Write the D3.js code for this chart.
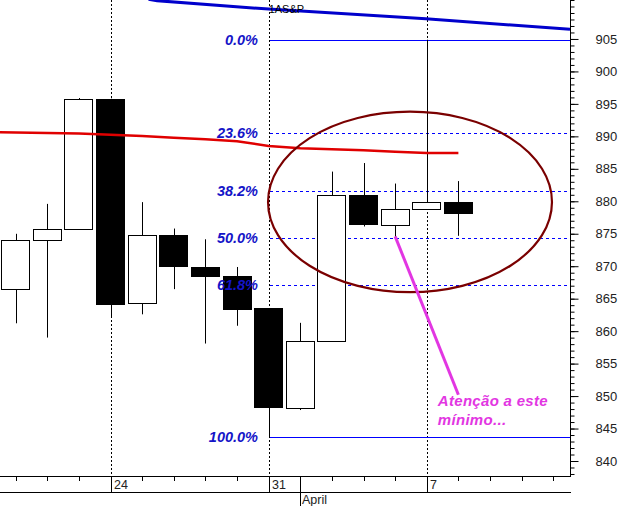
<!DOCTYPE html>
<html><head><meta charset="utf-8">
<script src="https://cdn.jsdelivr.net/npm/d3@7/dist/d3.min.js"></script>
<style>body{margin:0;background:#fff}svg{display:block}</style>
</head><body>
<svg id="c" width="618" height="506"></svg>
<script>
// ---- data ----
const dates = ["Mar 19","Mar 20","Mar 21","Mar 24","Mar 25","Mar 26","Mar 27","Mar 28","Mar 31",
               "Apr 1","Apr 2","Apr 3","Apr 4","Apr 7","Apr 8","Apr 9","Apr 10","Apr 11"];
const dayLabels = ["","","","24","","","","","31","","","","","7","","","",""];
const monthLabels = [{idx: 9, text: "April"}];
const openV  = [866.45,874.02,875.84,895.79,864.23,874.74,869.95,868.52,863.50,848.18,858.48,880.90,876.45,878.85,879.93];
const highV  = [874.99,879.60,895.90,895.79,879.87,875.80,874.15,869.88,863.50,861.28,884.57,885.89,882.73,904.89,883.11];
const lowV   = [861.21,859.01,875.84,862.02,862.59,866.47,858.09,860.83,843.68,847.85,858.48,876.12,874.23,878.85,874.68];
const closeV = [874.02,875.67,895.79,864.23,874.74,869.95,868.52,863.50,848.18,858.48,880.90,876.45,878.85,879.93,878.29];
// red moving average, index -1 .. 14
const maIdx = [-1,0,1,2,3,4,5,6,7,8,9,10,11,12,13,14];
const maVal = [890.68,890.60,890.52,890.44,890.24,890.06,889.78,889.55,889.26,888.52,888.17,888.01,887.86,887.64,887.44,887.44];
// blue trend line
const trendIdx = [4.2, 4.47, 8.0, 12.97, 17.53];
const trendVal = [911.1, 910.9, 909.6, 908.1, 906.5];
// fibonacci retracement
const fibLevels = [0, 23.6, 38.2, 50, 61.8, 100];
const fibHigh = 904.89, fibLow = 843.68, fibStartIdx = 8;
// y ticks
const yMajor = d3.range(840, 910, 5);
const yMinor = d3.range(838, 912, 1);
// annotations
const ellipseC = [12.47, 879.9], ellipseR = [4.49, 13.9];
const arrowFrom = [12.0, 874.6], arrowTo = [14.0, 850.2];
const noteLines = ["Atenção a este", "mínimo..."];
const notePos = [13.35, 848.4];
const titleText = "1AS&P";

// ---- layout ----
const W = 618, H = 506, plotR = 570, plotB = 476, axis2 = 492;
const svg = d3.select("#c");
const x = d3.scaleLinear().domain([-0.497, 17.53]).range([0, plotR]);
const y = d3.scaleLinear().domain([837.69, 911.0]).range([plotB, 0]);
const step = x(1) - x(0);
const bw = step * 0.92;

svg.append("defs").append("clipPath").attr("id","clip")
  .append("rect").attr("x",0).attr("y",0).attr("width",plotR).attr("height",plotB);

const plot = svg.append("g").attr("clip-path","url(#clip)");

// vertical dotted grid at Mondays
const gridIdx = dayLabels.map((d,i)=>d?i:null).filter(d=>d!==null);
plot.append("g").attr("class","grid").selectAll("line").data(gridIdx).join("line")
  .attr("x1",d=>Math.round(x(d))+0.5).attr("x2",d=>Math.round(x(d))+0.5)
  .attr("y1",0).attr("y2",plotB)
  .attr("stroke","#000").attr("stroke-width",1).attr("stroke-dasharray","2,2");

// fib lines
const fibPrice = p => fibHigh - (fibHigh - fibLow) * p / 100;
plot.append("g").attr("class","fib").selectAll("line").data(fibLevels).join("line")
  .attr("x1", Math.round(x(fibStartIdx))+1).attr("x2", plotR)
  .attr("y1", d=>Math.round(y(fibPrice(d)))+0.5).attr("y2", d=>Math.round(y(fibPrice(d)))+0.5)
  .style("stroke", "#0000ff").style("stroke-width","1px")
  .style("stroke-dasharray", d=> (d===0||d===100) ? "none" : "3,3");

// title text
svg.append("text").attr("x", x(fibStartIdx)).attr("y", 13)
  .attr("font-family","Liberation Sans, Arial, sans-serif").attr("font-size",11)
  .attr("fill","#000").text(titleText);

// blue trend line
plot.append("path")
  .datum(trendIdx.map((d,i)=>[d, trendVal[i]]))
  .attr("d", d3.line().x(d=>x(d[0])).y(d=>y(d[1])))
  .attr("fill","none").attr("stroke","#0000cc").attr("stroke-width",3);

// candles
const idx = d3.range(openV.length);
const cg = plot.append("g").attr("class","candles");
cg.selectAll("line").data(idx).join("line")
  .attr("x1", i=>Math.round(x(i))+0.5).attr("x2", i=>Math.round(x(i))+0.5)
  .attr("y1", i=>y(highV[i])).attr("y2", i=>y(lowV[i]))
  .attr("stroke","#000").attr("stroke-width",1);
cg.selectAll("rect").data(idx).join("rect")
  .attr("x", i=>Math.round(x(i) - bw/2)+0.5)
  .attr("width", Math.round(bw)-1)
  .attr("y", i=>Math.round(y(Math.max(openV[i],closeV[i])))+0.5)
  .attr("height", i=>Math.max(1, Math.round(Math.abs(y(openV[i])-y(closeV[i])))))
  .attr("fill", i=> closeV[i] >= openV[i] ? "#fff" : "#000")
  .attr("stroke","#000").attr("stroke-width",1);

// red MA
plot.append("path")
  .datum(maIdx.map((d,i)=>[d, maVal[i]]))
  .attr("d", d3.line().x(d=>x(d[0])).y(d=>y(d[1])))
  .attr("fill","none").attr("stroke","#e00000").attr("stroke-width",2.5);

// fib labels
svg.append("g").selectAll("text").data(fibLevels).join("text")
  .attr("x", 258).attr("y", d=>y(fibPrice(d))+5)
  .attr("text-anchor","end")
  .attr("font-family","Liberation Sans, Arial, sans-serif")
  .attr("font-size",14.5).attr("font-weight","bold").attr("font-style","italic")
  .attr("fill","#1414c8")
  .text(d=>d.toFixed(1)+"%");

// ellipse
plot.append("ellipse")
  .attr("cx", x(ellipseC[0])).attr("cy", y(ellipseC[1]))
  .attr("rx", x(ellipseR[0]) - x(0)).attr("ry", y(0) - y(ellipseR[1]) )
  .attr("fill","none").attr("stroke","#7a0000").attr("stroke-width",2.2);

// pink arrow line + note
plot.append("line")
  .attr("x1", x(arrowFrom[0])).attr("y1", y(arrowFrom[1]))
  .attr("x2", x(arrowTo[0])).attr("y2", y(arrowTo[1]))
  .attr("stroke","#e236e2").attr("stroke-width",3);
svg.append("g").selectAll("text").data(noteLines).join("text")
  .attr("x", x(notePos[0])).attr("y", (d,i)=> y(notePos[1]) + i*18.5)
  .attr("font-family","Liberation Sans, Arial, sans-serif")
  .attr("font-size",15).attr("font-weight","bold").attr("font-style","italic")
  .attr("letter-spacing", 0.3)
  .attr("fill","#e236e2").text(d=>d);

// y axis (right)
const yAxMinor = d3.axisRight(y).tickValues(yMinor).tickSize(4).tickFormat("");
const yAxMajor = d3.axisRight(y).tickValues(yMajor).tickSize(8).tickPadding(17).tickFormat(d3.format("d"));
const ya = svg.append("g").attr("transform",`translate(${plotR+0.5},0)`);
ya.append("g").call(yAxMinor).call(g=>g.select(".domain").remove());
ya.append("g").call(yAxMajor).call(g=>g.select(".domain").remove());
ya.selectAll("line").attr("stroke","#000");
ya.selectAll("text").attr("font-family","Liberation Sans, Arial, sans-serif")
  .attr("font-size",13).attr("fill","#222");
svg.append("line").attr("x1",plotR+0.5).attr("x2",plotR+0.5).attr("y1",0).attr("y2",plotB)
  .attr("stroke","#000");

// x axis (bottom)
svg.append("line").attr("x1",0).attr("x2",plotR+1).attr("y1",plotB+0.5).attr("y2",plotB+0.5).attr("stroke","#000");
svg.append("line").attr("x1",0).attr("x2",plotR+1).attr("y1",axis2+0.5).attr("y2",axis2+0.5).attr("stroke","#000");
const xa = svg.append("g");
xa.append("g").selectAll("line").data(dates.map((d,i)=>i)).join("line")
  .attr("x1", i=>Math.round(x(i))+0.5).attr("x2", i=>Math.round(x(i))+0.5)
  .attr("y1", plotB).attr("y2", i=> dayLabels[i] ? axis2 : plotB+5)
  .attr("stroke","#000");
xa.append("g").selectAll("text").data(dates.map((d,i)=>i).filter(i=>dayLabels[i])).join("text")
  .attr("x", i=>Math.round(x(i))+3).attr("y", 489)
  .attr("font-family","Liberation Sans, Arial, sans-serif").attr("font-size",12.5)
  .attr("fill","#222").text(i=>dayLabels[i]);
xa.append("g").selectAll("line").data(monthLabels).join("line")
  .attr("x1", d=>Math.round(x(d.idx))+0.5).attr("x2", d=>Math.round(x(d.idx))+0.5)
  .attr("y1", plotB).attr("y2", H).attr("stroke","#000");
xa.append("g").selectAll("text").data(monthLabels).join("text")
  .attr("x", d=>Math.round(x(d.idx))+2).attr("y", 504)
  .attr("font-family","Liberation Sans, Arial, sans-serif").attr("font-size",12.5)
  .attr("fill","#222").text(d=>d.text);
</script>
</body></html>
